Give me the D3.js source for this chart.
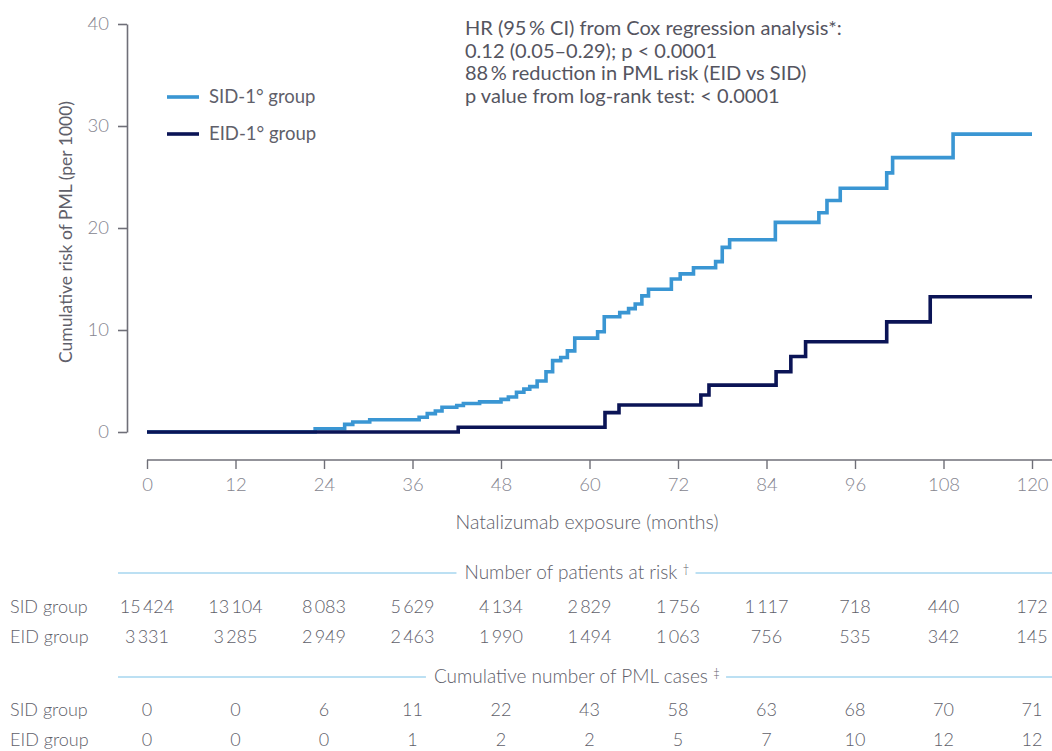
<!DOCTYPE html>
<html>
<head>
<meta charset="utf-8">
<script src="https://cdn.jsdelivr.net/npm/d3@7"></script>
<style>
  html, body { margin: 0; padding: 0; background: #fff; }
  svg { display: block; font-family: Lato, "Open Sans", sans-serif; }
</style>
</head>
<body>
<svg id="chart" width="1052" height="751"></svg>
<script>
// ---------- DATA ----------
const months = [0, 12, 24, 36, 48, 60, 72, 84, 96, 108, 120];
const yTicks = [0, 10, 20, 30, 40];

// SID-1° group step changes (months, cumulative risk per 1000)
const sidTime = [0, 22.8, 26.8, 27.9, 30.2, 36.9, 38.0, 39.1, 40.0, 42.0, 42.9, 45.1, 48.0, 49.0, 50.1, 51.1, 51.9, 52.9, 54.1, 55.0, 56.1, 57.0, 58.0, 61.1, 62.0, 64.1, 65.3, 66.2, 67.1, 68.0, 71.1, 72.3, 74.1, 77.1, 78.0, 79.0, 85.2, 91.1, 92.2, 94.0, 100.3, 101.1, 109.3, 120];
const sidRisk = [0, 0.32, 0.75, 0.98, 1.2, 1.44, 1.8, 2.06, 2.42, 2.6, 2.8, 2.95, 3.2, 3.43, 3.9, 4.2, 4.45, 5.0, 5.9, 7.0, 7.3, 7.95, 9.2, 9.83, 11.3, 11.7, 12.1, 12.55, 13.35, 14.0, 15.0, 15.5, 16.1, 16.7, 18.1, 18.85, 20.55, 21.5, 22.7, 23.9, 25.4, 26.9, 29.2, 29.2];

// EID-1° group step changes
const eidTime = [0, 42.2, 62.1, 64.0, 75.1, 76.2, 85.3, 87.3, 89.3, 100.3, 106.2, 120];
const eidRisk = [0, 0.46, 1.9, 2.65, 3.63, 4.6, 5.9, 7.4, 8.85, 10.8, 13.26, 13.26];

const seriesNames = ["SID-1° group", "EID-1° group"];
const rowLabels = ["SID group", "EID group"];
const atRiskSID = [15424, 13104, 8083, 5629, 4134, 2829, 1756, 1117, 718, 440, 172];
const atRiskEID = [3331, 3285, 2949, 2463, 1990, 1494, 1063, 756, 535, 342, 145];
const casesSID = [0, 0, 6, 11, 22, 43, 58, 63, 68, 70, 71];
const casesEID = [0, 0, 0, 1, 2, 2, 5, 7, 10, 12, 12];

const annotationLines = [
  "HR (95\u2009% CI) from Cox regression analysis*:",
  "0.12 (0.05\u20130.29); p < 0.0001",
  "88\u2009% reduction in PML risk (EID vs SID)",
  "p value from log-rank test: < 0.0001"
];
const xTitle = "Natalizumab exposure (months)";
const yTitle = "Cumulative risk of PML (per 1000)";
const header1 = ["Number of patients at risk", "\u2020"];
const header2 = ["Cumulative number of PML cases", "\u2021"];

// ---------- STYLE ----------
const sidColor = "#3a96d3";
const eidColor = "#0b1456";
const axisColor = "#6f6f78";
const tickText = "#85858f";
const labelText = "#60606a";
const ruleColor = "#a6d6ef";

const svg = d3.select("#chart");
const x = d3.scaleLinear().domain([0, 120]).range([147, 1032]);
const y = d3.scaleLinear().domain([0, 40]).range([432, 24]);

// Y axis
const yAxisG = svg.append("g").attr("transform", "translate(127,0)")
  .call(d3.axisLeft(y).tickValues(yTicks).tickSize(9).tickSizeOuter(0).tickPadding(9));
yAxisG.select(".domain").attr("stroke", axisColor).attr("stroke-width", 1.6);
yAxisG.selectAll(".tick line").attr("stroke", axisColor).attr("stroke-width", 1.6);
yAxisG.selectAll(".tick text").attr("fill", tickText).attr("font-size", 18.5).attr("font-weight", 300)
  .attr("font-family", "Lato, sans-serif");

// X axis
const xAxisG = svg.append("g").attr("transform", "translate(0,460)")
  .call(d3.axisBottom(x).tickValues(months).tickSize(9).tickSizeOuter(0).tickPadding(9));
xAxisG.select(".domain").remove();
xAxisG.append("line").attr("x1", x(0)).attr("x2", 1052).attr("y1", 0).attr("y2", 0)
  .attr("stroke", axisColor).attr("stroke-width", 1.6);
xAxisG.selectAll(".tick line").attr("stroke", axisColor).attr("stroke-width", 1.4);
xAxisG.selectAll(".tick text").attr("fill", tickText).attr("font-size", 18.5).attr("font-weight", 300)
  .attr("font-family", "Lato, sans-serif");

// Axis titles
svg.append("text").attr("x", 587).attr("y", 529).attr("text-anchor", "middle")
  .attr("font-size", 19.5).attr("font-weight", 300).attr("fill", labelText).text(xTitle);
svg.append("text").attr("transform", "translate(72,232) rotate(-90)").attr("text-anchor", "middle")
  .attr("font-size", 17.5).attr("font-weight", 400).attr("fill", labelText).text(yTitle);

// Curves
const line = d3.line().x(d => x(d[0])).y(d => y(d[1])).curve(d3.curveStepAfter);
const sidData = sidTime.map((t, i) => [t, sidRisk[i]]);
const eidData = eidTime.map((t, i) => [t, eidRisk[i]]);
svg.append("path").datum(sidData).attr("d", line).attr("fill", "none")
  .attr("stroke", sidColor).attr("stroke-width", 3.6);
svg.append("path").datum(eidData).attr("d", line).attr("fill", "none")
  .attr("stroke", eidColor).attr("stroke-width", 3.6);

// Legend
const legend = svg.append("g");
[[sidColor, 97], [eidColor, 134]].forEach((c, i) => {
  legend.append("line").attr("x1", 167).attr("x2", 199).attr("y1", c[1]).attr("y2", c[1])
    .attr("stroke", c[0]).attr("stroke-width", 3.6);
  legend.append("text").attr("x", 209).attr("y", c[1] + 6).attr("font-size", 18.5)
    .attr("fill", labelText).text(seriesNames[i]);
});

// Annotation
annotationLines.forEach((t, i) => {
  svg.append("text").attr("x", 465).attr("y", 35 + i * 22.6).attr("font-size", 20)
    .attr("fill", "#55555f").text(t);
});

// Table
const fmt = d3.formatLocale({ decimal: ".", thousands: "\u2009", grouping: [3], currency: ["", ""] }).format(",");
function header(parts, yy) {
  const t = svg.append("text").attr("x", 577).attr("y", yy + 6).attr("text-anchor", "middle")
    .attr("font-size", 19).attr("font-weight", 300).attr("fill", labelText);
  t.append("tspan").text(parts[0] + " ");
  t.append("tspan").attr("font-size", 12).attr("dy", -6).text(parts[1]);
  const bb = t.node().getBBox();
  svg.append("line").attr("x1", 118).attr("x2", bb.x - 8).attr("y1", yy).attr("y2", yy)
    .attr("stroke", ruleColor).attr("stroke-width", 1.6);
  svg.append("line").attr("x1", bb.x + bb.width + 6).attr("x2", 1052).attr("y1", yy).attr("y2", yy)
    .attr("stroke", ruleColor).attr("stroke-width", 1.6);
}
function row(label, values, yy) {
  svg.append("text").attr("x", 10).attr("y", yy + 6).attr("font-size", 18).attr("font-weight", 300)
    .attr("fill", labelText).text(label);
  svg.append("g").selectAll("text").data(values).join("text")
    .attr("x", (d, i) => x(months[i])).attr("y", yy + 6).attr("text-anchor", "middle")
    .attr("font-size", 18).attr("font-weight", 300).attr("fill", labelText).text(d => fmt(d));
}
header(header1, 573);
row(rowLabels[0], atRiskSID, 607);
row(rowLabels[1], atRiskEID, 637);
header(header2, 677);
row(rowLabels[0], casesSID, 710);
row(rowLabels[1], casesEID, 740);
</script>
</body>
</html>
